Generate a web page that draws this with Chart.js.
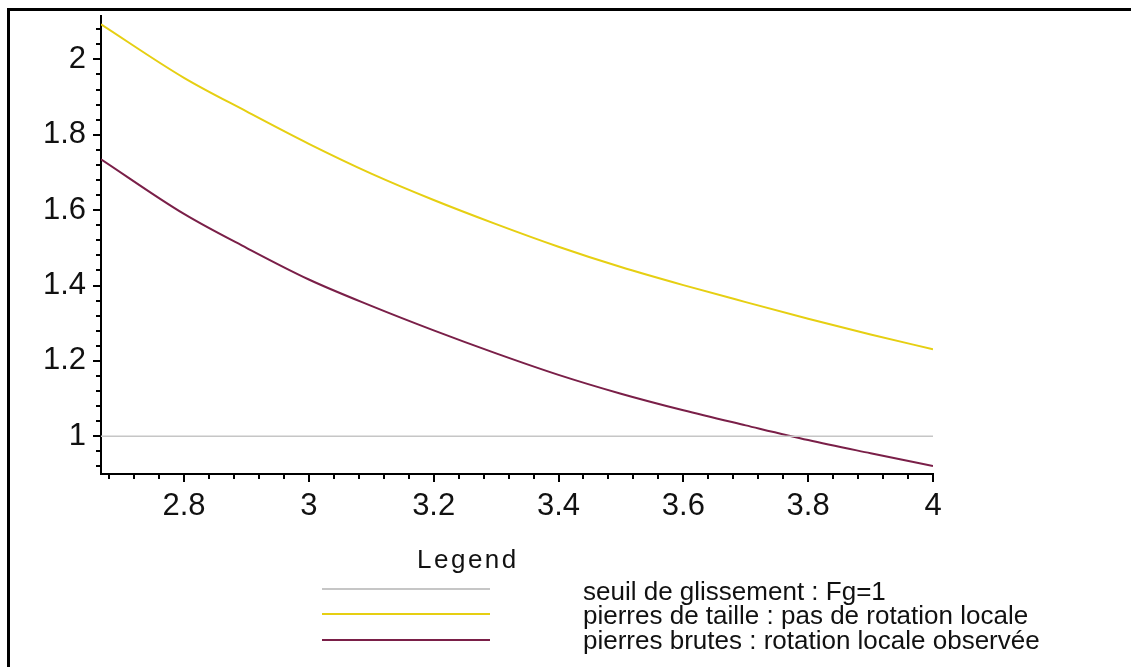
<!DOCTYPE html>
<html>
<head>
<meta charset="utf-8">
<script src="https://cdn.jsdelivr.net/npm/chart.js@4.4.1/dist/chart.umd.min.js"></script>
<style>
  html, body { margin: 0; padding: 0; background: #fff; }
  #wrap { position: relative; width: 1135px; height: 667px; }
</style>
</head>
<body>
<div id="wrap"><canvas id="c" width="1135" height="667"></canvas></div>
<script>
// Abscissa samples shared by the two curves
const xCurve = [2.667, 2.8, 2.9, 3.0, 3.1, 3.2, 3.3, 3.4, 3.5, 3.6, 3.7, 3.8, 3.9, 4.0];
// Fg for dressed stone (no local rotation)
const pierresTaille = [2.093, 1.951, 1.862, 1.776, 1.697, 1.627, 1.563, 1.503, 1.449, 1.401, 1.356, 1.312, 1.270, 1.231];
// Fg for rubble stone (local rotation observed)
const pierresBrutes = [1.735, 1.590, 1.500, 1.416, 1.346, 1.281, 1.220, 1.163, 1.113, 1.069, 1.029, 0.990, 0.955, 0.921];
// Sliding threshold Fg = 1
const xSeuil = [2.667, 4.0];
const seuil = [1, 1];

const xTickLabels = [2.8, 3, 3.2, 3.4, 3.6, 3.8, 4];
const yTickLabels = [1, 1.2, 1.4, 1.6, 1.8, 2];
const seriesNames = [
  'seuil de glissement : Fg=1',
  'pierres de taille : pas de rotation locale',
  'pierres brutes : rotation locale observée'
];
const seriesColors = ['#c6c6c6', '#e6cf12', '#7a1f48'];
const legendTitle = 'Legend';

const FAMILY = '"Liberation Sans", Arial, sans-serif';

const toPoints = (xs, ys) => xs.map((x, i) => ({ x: x, y: ys[i] }));

// Maple-style axis ticks: long marks every 0.2, short marks every 0.04
const minorTicks = {
  id: 'minorTicks',
  afterDraw(chart) {
    const { ctx, chartArea } = chart;
    const xs = chart.scales.x, ys = chart.scales.y;
    ctx.save();
    ctx.strokeStyle = '#000';
    ctx.lineWidth = 2;
    ctx.beginPath();
    for (let i = 60; i <= 100; i++) {
      const v = i * 0.04;
      if (v < xs.min - 1e-9 || v > xs.max + 1e-9) continue;
      const px = Math.round(xs.getPixelForValue(v));
      const len = i % 5 === 0 ? 8 : 5;
      ctx.moveTo(px, chartArea.bottom);
      ctx.lineTo(px, chartArea.bottom + len);
    }
    for (let i = 20; i <= 55; i++) {
      const v = i * 0.04;
      if (v < ys.min - 1e-9 || v > ys.max + 1e-9) continue;
      const py = Math.round(ys.getPixelForValue(v));
      const len = i % 5 === 0 ? 8 : 5;
      ctx.moveTo(chartArea.left, py);
      ctx.lineTo(chartArea.left - len, py);
    }
    ctx.stroke();
    ctx.restore();
  }
};

// Legend block under the plot
const legendBlock = {
  id: 'legendBlock',
  afterDraw(chart) {
    const ctx = chart.ctx;
    ctx.save();
    ctx.fillStyle = '#111';
    ctx.textBaseline = 'alphabetic';
    ctx.font = '26px ' + FAMILY;
    if ('letterSpacing' in ctx) ctx.letterSpacing = '2.5px';
    ctx.fillText(legendTitle, 417, 568);
    if ('letterSpacing' in ctx) ctx.letterSpacing = '0px';
    const lineYs = [589, 614, 640];
    const textYs = [600, 624, 649];
    chart.data.datasets.forEach((ds, i) => {
      ctx.strokeStyle = ds.borderColor;
      ctx.lineWidth = 2;
      ctx.beginPath();
      ctx.moveTo(322, lineYs[i]);
      ctx.lineTo(490, lineYs[i]);
      ctx.stroke();
      ctx.font = '26px ' + FAMILY;
      ctx.fillStyle = '#111';
      ctx.fillText(ds.label, 583, textYs[i]);
    });
    ctx.restore();
  }
};

// Window frame on the top and left edges
const frame = {
  id: 'frame',
  afterDraw(chart) {
    const ctx = chart.ctx;
    ctx.save();
    ctx.fillStyle = '#000';
    ctx.fillRect(7, 8, 1124, 3);
    ctx.fillRect(7, 8, 3, 659);
    ctx.restore();
  }
};

new Chart(document.getElementById('c'), {
  type: 'line',
  data: {
    datasets: [
      { label: seriesNames[0], data: toPoints(xSeuil, seuil), borderColor: seriesColors[0], borderWidth: 1.5 },
      { label: seriesNames[1], data: toPoints(xCurve, pierresTaille), borderColor: seriesColors[1], borderWidth: 2, cubicInterpolationMode: 'monotone' },
      { label: seriesNames[2], data: toPoints(xCurve, pierresBrutes), borderColor: seriesColors[2], borderWidth: 2, cubicInterpolationMode: 'monotone' }
    ]
  },
  options: {
    responsive: false,
    animation: false,
    layout: { padding: { left: 0, top: 16, right: 202, bottom: 0 } },
    elements: { point: { radius: 0 }, line: { fill: false } },
    plugins: { legend: { display: false }, tooltip: { enabled: false } },
    scales: {
      x: {
        type: 'linear',
        min: 2.667,
        max: 4,
        grid: { display: false, drawTicks: true, tickLength: 8 },
        border: { display: true, color: '#000', width: 2 },
        ticks: { color: '#111', font: { family: FAMILY, size: 31 }, padding: 6, maxRotation: 0, autoSkip: false, callback: v => String(v) },
        afterBuildTicks: s => { s.ticks = xTickLabels.map(v => ({ value: v })); },
        afterFit: s => { s.height = 193; s.paddingLeft = 0; s.paddingRight = 0; }
      },
      y: {
        type: 'linear',
        min: 0.9,
        max: 2.115,
        grid: { display: false, drawTicks: true, tickLength: 8 },
        border: { display: true, color: '#000', width: 2 },
        ticks: { color: '#111', font: { family: FAMILY, size: 31 }, padding: 7, autoSkip: false, callback: v => String(v) },
        afterBuildTicks: s => { s.ticks = yTickLabels.map(v => ({ value: v })); },
        afterFit: s => { s.width = 101; s.paddingTop = 0; s.paddingBottom = 0; }
      }
    }
  },
  plugins: [minorTicks, legendBlock, frame]
});
</script>
</body>
</html>
